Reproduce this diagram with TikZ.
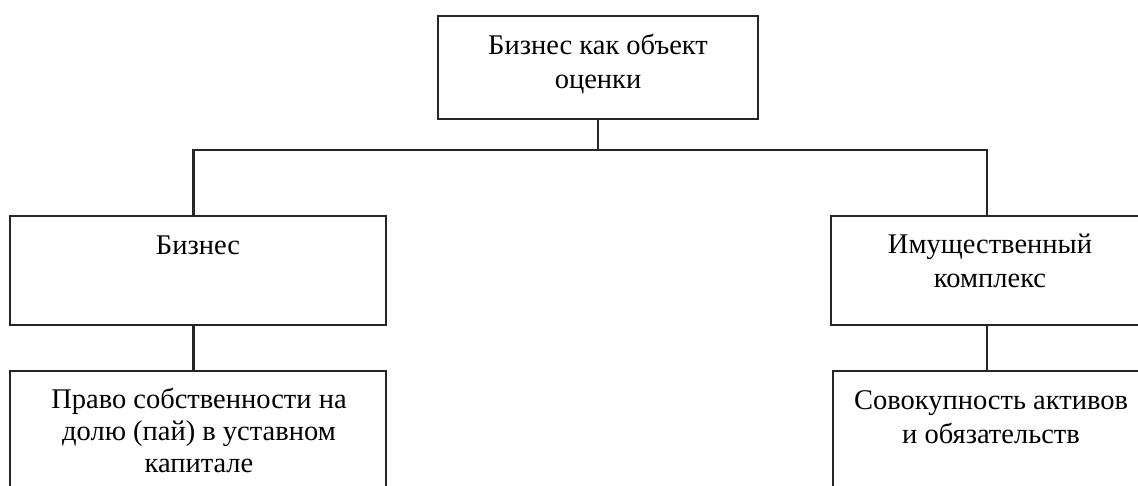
\documentclass[tikz,border=0pt]{standalone}
\usepackage{fontspec}
\setmainfont{Liberation Serif}
\newcommand{\firststrut}{\rule{0pt}{21pt}}
\begin{document}
\begin{tikzpicture}[x=1pt,y=-1pt,
  box/.style={draw=black!85, line width=2.2pt, rectangle, inner sep=0pt},
  lbl/.style={anchor=north, align=center, inner sep=0pt, font=\fontsize{28.5}{34}\selectfont},
  lbltight/.style={lbl, font=\fontsize{28.5}{32}\selectfont},
  conn/.style={draw=black!85, line width=2.2pt}]
\useasboundingbox (0,0) rectangle (1138,486);
\clip (0,0) rectangle (1138,486);
\fill[white] (0,0) rectangle (1138,486);
% boxes
\node[box, minimum width=320pt, minimum height=103pt] (top) at (598,67.5) {};
\node[box, minimum width=376pt, minimum height=109pt] (left1) at (198,270.5) {};
\node[box, minimum width=316pt, minimum height=109pt] (right1) at (989,270.5) {};
\node[box, minimum width=376pt, minimum height=150pt] (left2) at (198,446) {};
\node[box, minimum width=316pt, minimum height=150pt] (right2) at (991,446) {};
% texts
\node[lbl] (ttop) at (598,33.3) {\firststrut Бизнес как объект\\оценки};
\node[lbl] (tleft1) at (198,233) {\firststrut Бизнес};
\node[lbl] (tright1) at (990,232.3) {\firststrut Имущественный\\комплекс};
\node[lbltight] (tleft2) at (199,387.3) {\firststrut Право собственности на\\долю (пай) в уставном\\капитале};
\node[lbl] (tright2) at (991,388) {\firststrut Совокупность активов\\и обязательств};
% connectors
\coordinate (hl) at (193.5,150);
\coordinate (hr) at (987,150);
\draw[conn] (top.south) -- (top.south |- hl);
\draw[conn] (hl |- left1.north) -- (hl) -- (hr) -- (hr |- right1.north);
\draw[conn] (hl |- left1.south) -- (hl |- left2.north);
\draw[conn] (hr |- right1.south) -- (hr |- right2.north);
\end{tikzpicture}
\end{document}
